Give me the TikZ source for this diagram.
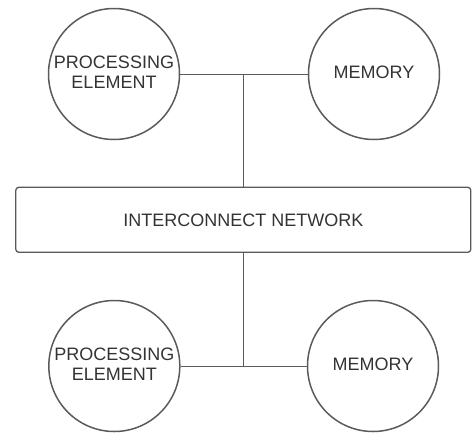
\documentclass[tikz,border=0pt]{standalone}
\usepackage{fontspec}
\setmainfont{Liberation Sans}
\definecolor{linec}{HTML}{5A5A5A}
\definecolor{textc}{HTML}{333333}
\begin{document}
\begin{tikzpicture}[x=1pt,y=-1pt,
  unit/.style={circle,draw=linec,line width=1.5pt,minimum size=131pt,inner sep=0pt,text=textc,font=\fontsize{18}{21}\selectfont,align=center},
  netbox/.style={draw=linec,line width=1.3pt,rounded corners=3pt,minimum width=455pt,minimum height=65pt,text=textc,font=\fontsize{18}{21}\selectfont},
  wire/.style={draw=linec,line width=1pt}]
\useasboundingbox (0,0) rectangle (474,437);
\node[unit] (pe1) at (114,74) {\raisebox{3pt}{\begin{tabular}{@{}c@{}}PROCESSING\\[-1pt]ELEMENT\end{tabular}}};
\node[unit] (m1) at (374,74) {\raisebox{3pt}{MEMORY}};
\node[netbox] (net) at (243.3,219.8) {INTERCONNECT NETWORK};
\node[unit] (pe2) at (114.3,366) {\raisebox{3pt}{\begin{tabular}{@{}c@{}}PROCESSING\\[-1pt]ELEMENT\end{tabular}}};
\node[unit] (m2) at (373,366) {\raisebox{3pt}{MEMORY}};
\coordinate (j1) at (243.3,74);
\coordinate (j2) at (243.3,366);
\draw[wire] (pe1.east) -- (m1.west);
\draw[wire] (j1) -- (net.north -| j1);
\draw[wire] (pe2.east) -- (m2.west);
\draw[wire] (j2) -- (net.south -| j2);
\end{tikzpicture}
\end{document}
